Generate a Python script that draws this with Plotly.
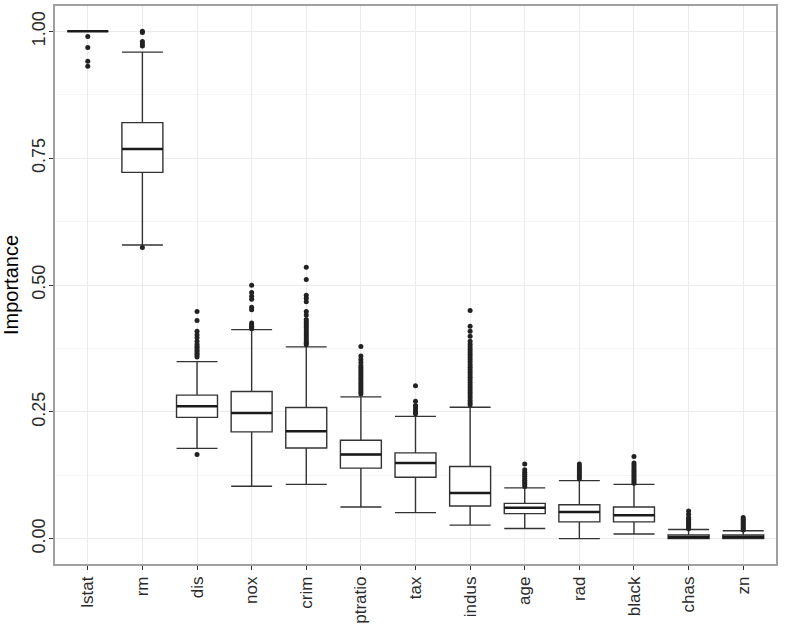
import plotly.graph_objects as go

variables = ["lstat", "rm", "dis", "nox", "crim", "ptratio", "tax", "indus",
             "age", "rad", "black", "chas", "zn"]

q1 = [1.0, 0.722, 0.239, 0.2105, 0.1786, 0.139, 0.121, 0.0643, 0.0493, 0.033, 0.033, 0.0, 0.0]
median = [1.0, 0.768, 0.261, 0.2476, 0.2118, 0.166, 0.149, 0.090, 0.061, 0.0526, 0.046, 0.0025, 0.003]
q3 = [1.0, 0.820, 0.283, 0.290, 0.2586, 0.194, 0.169, 0.1423, 0.0696, 0.0669, 0.0624, 0.0072, 0.0072]
lower_whisker = [1.0, 0.579, 0.178, 0.1033, 0.107, 0.0624, 0.0513, 0.0267, 0.020, 0.0, 0.009, 0.0, 0.0]
upper_whisker = [1.0, 0.959, 0.349, 0.412, 0.378, 0.2794, 0.241, 0.259, 0.100, 0.1144, 0.107, 0.018, 0.0156]

out_lstat = [0.99, 0.968, 0.941, 0.931]
out_rm = [1.0, 0.998, 0.98, 0.975, 0.971, 0.574]
out_dis = [0.448, 0.430, 0.409, 0.402, 0.396, 0.389, 0.383, 0.379, 0.376, 0.372,
           0.369, 0.365, 0.362, 0.358, 0.166]
out_nox = [0.4997, 0.485, 0.478, 0.472, 0.456, 0.451, 0.425, 0.421, 0.418, 0.416, 0.414]
out_crim = [0.535, 0.511, 0.480, 0.474, 0.467, 0.448, 0.441, 0.432, 0.428, 0.424,
            0.420, 0.416, 0.412, 0.408, 0.404, 0.400, 0.396, 0.392, 0.388, 0.385, 0.382]
out_ptratio = [0.379, 0.360, 0.353, 0.347, 0.341, 0.337, 0.333, 0.329, 0.325, 0.321,
               0.317, 0.313, 0.309, 0.305, 0.301, 0.297, 0.293, 0.289, 0.285]
out_tax = [0.3015, 0.271, 0.2625, 0.258, 0.253, 0.249, 0.246]
out_indus = [0.4497, 0.4185, 0.409, 0.399, 0.389, 0.383, 0.378, 0.373, 0.368, 0.363,
             0.358, 0.353, 0.348, 0.343, 0.338, 0.333, 0.328, 0.323, 0.318, 0.313,
             0.308, 0.303, 0.298, 0.293, 0.288, 0.283, 0.278, 0.273, 0.268, 0.264]
out_age = [0.147, 0.136, 0.131, 0.127, 0.123, 0.119, 0.115, 0.111, 0.107, 0.103]
out_rad = [0.147, 0.142, 0.138, 0.134, 0.130, 0.126, 0.122, 0.118]
out_black = [0.162, 0.149, 0.145, 0.141, 0.137, 0.133, 0.129, 0.125, 0.121, 0.117, 0.113, 0.109]
out_chas = [0.0546, 0.048, 0.0415, 0.038, 0.035, 0.032, 0.029, 0.026, 0.023, 0.0195]
out_zn = [0.0415, 0.038, 0.035, 0.032, 0.029, 0.026, 0.023, 0.020, 0.017]

outliers = [out_lstat, out_rm, out_dis, out_nox, out_crim, out_ptratio, out_tax,
            out_indus, out_age, out_rad, out_black, out_chas, out_zn]

y_ticks = [0.0, 0.25, 0.5, 0.75, 1.0]
y_tick_labels = ["0.00", "0.25", "0.50", "0.75", "1.00"]

positions = list(range(len(variables)))
BOX_W = 0.75
LINE = "#333333"

fig = go.Figure()

fig.add_trace(go.Box(
    x=positions, q1=q1, median=median, q3=q3,
    lowerfence=lower_whisker, upperfence=upper_whisker,
    width=BOX_W, whiskerwidth=1.0,
    fillcolor="white", line=dict(color=LINE, width=1.4),
    boxpoints=False, showlegend=False, hoverinfo="skip",
))

ox, oy = [], []
for i, vals in enumerate(outliers):
    ox += [positions[i]] * len(vals)
    oy += vals
fig.add_trace(go.Scatter(
    x=ox, y=oy, mode="markers",
    marker=dict(color="#222222", size=5),
    showlegend=False, hoverinfo="skip",
))

# thicker median lines (ggplot fatten)
for i, m in enumerate(median):
    fig.add_shape(type="line", xref="x", yref="y",
                  x0=positions[i] - BOX_W / 2, x1=positions[i] + BOX_W / 2,
                  y0=m, y1=m, line=dict(color="#1a1a1a", width=2.5))

fig.update_layout(
    width=785, height=628,
    margin=dict(l=55, r=9, t=4, b=56),
    plot_bgcolor="white", paper_bgcolor="white",
    font=dict(family="Liberation Sans, Arial, sans-serif"),
)

fig.update_xaxes(
    range=[-0.6, len(variables) - 0.4],
    tickmode="array", tickvals=positions, ticktext=variables,
    tickangle=-90, tickfont=dict(size=17, color="#2b2b2b"),
    showgrid=True, gridcolor="#ebebeb", gridwidth=1,
    ticks="outside", ticklen=4, tickcolor="#333333", tickwidth=1,
    showline=True, linecolor="#a0a0a0", linewidth=1.5, mirror=True,
    zeroline=False,
)
fig.update_yaxes(
    range=[-0.05, 1.05],
    tickmode="array", tickvals=y_ticks, ticktext=y_tick_labels,
    tickangle=-90, tickfont=dict(size=18, color="#2b2b2b"),
    ticklabelstandoff=-3,
    showgrid=True, gridcolor="#ebebeb", gridwidth=1,
    minor=dict(tickmode="array", tickvals=[0.125, 0.375, 0.625, 0.875],
               showgrid=True, gridcolor="#f5f5f5", gridwidth=1, ticks=""),
    ticks="outside", ticklen=4, tickcolor="#333333", tickwidth=1,
    showline=True, linecolor="#a0a0a0", linewidth=1.5, mirror=True,
    zeroline=False,
    title=dict(text="Importance", font=dict(size=20, color="black"), standoff=5),
)

fig.write_html("out.html", config={"displayModeBar": False},
               post_script="document.body.style.margin='0';")
